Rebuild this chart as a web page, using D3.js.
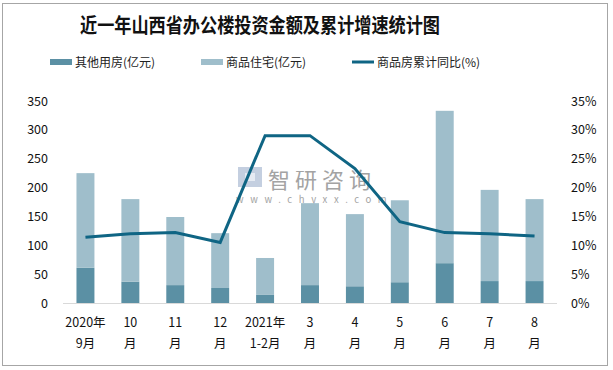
<!DOCTYPE html>
<html>
<head>
<meta charset="utf-8">
<script src="https://cdn.jsdelivr.net/npm/d3@7"></script>
<style>
  body { margin: 0; background: #fff; }
  text { font-family: "Noto Sans CJK SC", "DejaVu Sans", sans-serif; }
</style>
</head>
<body>
<svg id="chart" width="613" height="370"></svg>
<script>
const months = ["2020年|9月", "10|月", "11|月", "12|月", "2021年|1-2月", "3|月", "4|月", "5|月", "6|月", "7|月", "8|月"];
const otherUse = [61, 37, 31, 26, 14, 31, 29, 36, 69, 38, 38];
const residential = [164, 143, 118, 95, 64, 142, 125, 142, 264, 158, 142];
const growth = [11.4, 12.0, 12.2, 10.5, 29.0, 29.0, 23.3, 14.1, 12.2, 12.0, 11.6];
const leftTicks = [0, 50, 100, 150, 200, 250, 300, 350];
const rightTicks = [0, 5, 10, 15, 20, 25, 30, 35];

const svg = d3.select("#chart");
const width = +svg.attr("width");
const height = +svg.attr("height");
const margin = { top:101, right:56, bottom:67, left:63 };
const plotWidth = width - margin.left - margin.right;
const plotHeight = height - margin.top - margin.bottom;

const cOther = "#5b90a4";
const cRes = "#9fbecb";
const cLine = "#0f6584";

// frame
svg.append("rect")
  .attr("x", 2.5).attr("y", 3.5)
  .attr("width", 605).attr("height", 362)
  .attr("fill", "none")
  .attr("stroke", "#a6a6a6");

svg.append("text")
  .attr("x", 260)
  .attr("y", 33)
  .attr("text-anchor", "middle")
  .attr("font-size", 20)
  .attr("font-weight", "bold")
  .attr("fill", "#111")
  .attr("textLength", 360)
  .attr("lengthAdjust", "spacingAndGlyphs")
  .text("近一年山西省办公楼投资金额及累计增速统计图");

// legend
const legend = svg.append("g").attr("font-size", 12).attr("fill", "#222");
legend.append("rect").attr("x", 50).attr("y", 59).attr("width", 22).attr("height", 6).attr("fill", cOther);
legend.append("text").attr("x", 75).attr("y", 67).text("其他用房(亿元)");
legend.append("rect").attr("x", 201).attr("y", 59).attr("width", 22).attr("height", 6).attr("fill", cRes);
legend.append("text").attr("x", 226).attr("y", 67).text("商品住宅(亿元)");
legend.append("line").attr("x1", 352).attr("x2", 374).attr("y1", 62).attr("y2", 62)
  .attr("stroke", cLine).attr("stroke-width", 3);
legend.append("text").attr("x", 377).attr("y", 67).text("商品房累计同比(%)");

const g = svg.append("g")
  .attr("transform", `translate(${margin.left}, ${margin.top})`);

const x = d3.scaleBand()
  .domain(months)
  .range([0, plotWidth])
  .paddingInner(0.6)
  .paddingOuter(0.3);

const y = d3.scaleLinear()
  .domain([0, 350])
  .range([plotHeight, 0]);

const y2 = d3.scaleLinear()
  .domain([0, 35])
  .range([plotHeight, 0]);

// watermark
const wm = g.append("g");
wm.append("rect").attr("x", 175).attr("y", 66).attr("width", 24).attr("height", 20).attr("fill", "#c4cfe0");
wm.append("rect").attr("x", 182).attr("y", 72).attr("width", 10).attr("height", 8).attr("fill", "#e6ebf3");
wm.append("text").attr("x", 205).attr("y", 86.5).attr("font-size", 22).attr("fill", "#a3a3a3")
  .attr("letter-spacing", 5).text("智研咨询");
wm.append("text").attr("x", 173).attr("y", 102).attr("font-size", 9.5).attr("fill", "#a3a3a3")
  .attr("letter-spacing", 6.6).text("www.chyxx.com");

const rows = months.map((m, i) => ({ m, other: otherUse[i], res: residential[i], g: growth[i] }));

g.selectAll(".other")
  .data(rows)
  .enter()
  .append("rect")
  .attr("x", d => x(d.m))
  .attr("width", x.bandwidth())
  .attr("y", d => y(d.other))
  .attr("height", d => plotHeight - y(d.other))
  .attr("fill", cOther);

g.selectAll(".res")
  .data(rows)
  .enter()
  .append("rect")
  .attr("x", d => x(d.m))
  .attr("width", x.bandwidth())
  .attr("y", d => y(d.other + d.res))
  .attr("height", d => y(d.other) - y(d.other + d.res))
  .attr("fill", cRes);

// baseline
g.append("line")
  .attr("x1", 0).attr("x2", plotWidth)
  .attr("y1", plotHeight + 0.5).attr("y2", plotHeight + 0.5)
  .attr("stroke", "#d9d9d9");

const line = d3.line()
  .x(d => x(d.m) + x.bandwidth() / 2)
  .y(d => y2(d.g));

g.append("path")
  .datum(rows)
  .attr("d", line)
  .attr("fill", "none")
  .attr("stroke", cLine)
  .attr("stroke-width", 3);

const yAxis = g.append("g")
  .call(d3.axisLeft(y).tickValues(leftTicks).tickSize(0).tickPadding(15));
yAxis.select(".domain").remove();
yAxis.selectAll("text").attr("font-size", 12.5).attr("fill", "#111");

const yAxis2 = g.append("g")
  .attr("transform", `translate(${plotWidth}, 0)`)
  .call(d3.axisRight(y2).tickValues(rightTicks).tickSize(0).tickPadding(14).tickFormat(d => d + "%"));
yAxis2.select(".domain").remove();
yAxis2.selectAll("text").attr("font-size", 12.5).attr("fill", "#111");

const xAxis = g.append("g")
  .attr("transform", `translate(0, ${plotHeight})`)
  .call(d3.axisBottom(x).tickSize(0).tickFormat(""));
xAxis.select(".domain").remove();
xAxis.selectAll(".tick").each(function(d) {
  const parts = d.split("|");
  const t = d3.select(this).append("text")
    .attr("fill", "#111")
    .attr("font-size", 12.5)
    .attr("text-anchor", "middle");
  parts.forEach((p, i) => {
    t.append("tspan").attr("x", 0).attr("y", 24 + i * 21).text(p);
  });
});
</script>
</body>
</html>
